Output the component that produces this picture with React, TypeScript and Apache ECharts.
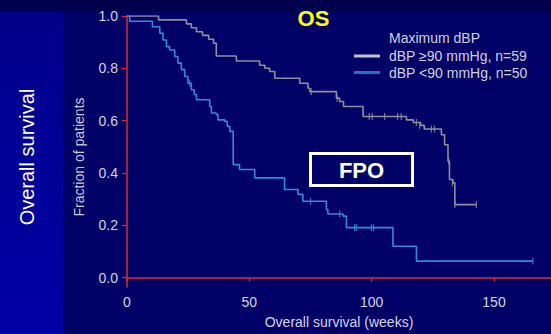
import React, { useEffect, useRef } from "react";
import * as echarts from "echarts";

// dBP >= 90 mmHg, n=59 (step points: week, fraction surviving from that week)
const highWeeks = [0, 12.9, 24.3, 26.3, 28.4, 30.9, 33.4, 35.4, 36.5, 44.7, 54.2, 56.3, 58.3, 60.4, 70.6, 74.0, 74.7, 85.6, 86.9, 88.5, 96.5, 114.2, 117.0, 120.0, 121.5, 128.5, 129.8, 131.2, 131.8, 133.2, 134.0, 142.8];
const highFrac = [1.0, 0.985, 0.97, 0.955, 0.94, 0.926, 0.911, 0.896, 0.847, 0.828, 0.812, 0.8, 0.788, 0.762, 0.743, 0.724, 0.711, 0.686, 0.673, 0.654, 0.616, 0.603, 0.593, 0.582, 0.568, 0.546, 0.508, 0.445, 0.375, 0.362, 0.279, 0.279];
const highCensorWeeks = [75.3, 85.9, 99.0, 100.2, 105.3, 110.6, 112.1, 118.3, 119.6, 124.4, 125.7, 131.5, 133.0, 134.0, 142.8];
const highCensorFrac = [0.711, 0.686, 0.616, 0.616, 0.616, 0.616, 0.616, 0.593, 0.582, 0.568, 0.568, 0.445, 0.362, 0.279, 0.279];

// dBP < 90 mmHg, n=50
const lowWeeks = [0, 1.1, 10.4, 13.4, 14.7, 16.1, 17.4, 19.5, 20.8, 22.2, 23.6, 24.9, 26.3, 27.5, 28.4, 33.8, 34.5, 36.5, 37.2, 39.9, 41.0, 42.0, 43.4, 46.0, 52.2, 64.4, 69.9, 71.9, 81.5, 82.1, 88.3, 89.7, 108.7, 118.3, 165.9];
const lowFrac = [1.0, 0.98, 0.959, 0.934, 0.908, 0.883, 0.87, 0.845, 0.82, 0.795, 0.769, 0.743, 0.718, 0.7, 0.68, 0.654, 0.629, 0.623, 0.603, 0.597, 0.578, 0.559, 0.432, 0.413, 0.381, 0.337, 0.318, 0.292, 0.26, 0.243, 0.235, 0.191, 0.12, 0.063, 0.063];
const lowCensorWeeks = [25.6, 75.0, 86.9, 93.0, 93.7, 99.9, 100.8, 165.9];
const lowCensorFrac = [0.743, 0.292, 0.243, 0.191, 0.191, 0.191, 0.191, 0.063];

const xTicks = [0, 50, 100, 150];
const yTicks = [0, 0.2, 0.4, 0.6, 0.8, 1.0];

const seriesNames = ["dBP \u226590 mmHg, n=59", "dBP <90 mmHg, n=50"];
const FONT = "Liberation Sans, Arial, sans-serif";
const RED = "#dc2b2b";
const GRAY = "#8e8e9c";
const BLUE = "#3489d8";

const zip = (a: number[], b: number[]) => a.map((v, i) => [v, b[i]]);

export default function App() {
  const ref = useRef<HTMLDivElement>(null);
  useEffect(() => {
    if (!ref.current) return;
    const chart = echarts.init(ref.current, null, { renderer: "svg" });
    chart.setOption({
      animation: false,
      backgroundColor: "transparent",
      textStyle: { fontFamily: FONT },
      grid: { left: 127, right: 0, top: 16, bottom: 46.3 },
      xAxis: {
        type: "value",
        min: 0,
        max: 173.3,
        axisLine: { lineStyle: { color: RED, width: 1.5 } },
        axisTick: { length: 4, lineStyle: { color: RED, width: 1.2 }, customValues: xTicks },
        axisLabel: { customValues: xTicks, color: "#d4d4e4", fontSize: 14, margin: 8, fontFamily: FONT },
        splitLine: { show: false },
        name: "Overall survival (weeks)",
        nameLocation: "middle",
        nameGap: 28,
        nameTextStyle: { color: "#d4d4e4", fontSize: 14, fontFamily: FONT },
      },
      yAxis: {
        type: "value",
        min: -0.036,
        max: 1.0,
        axisLine: { show: true, lineStyle: { color: RED, width: 1.5 } },
        axisTick: { show: true, length: 5, lineStyle: { color: RED, width: 1.2 }, customValues: yTicks },
        axisLabel: {
          customValues: yTicks,
          color: "#d4d4e4",
          fontSize: 14,
          margin: 9,
          fontFamily: FONT,
          formatter: (v: number) => v.toFixed(1),
        },
        splitLine: { show: false },
      },
      legend: {
        orient: "vertical",
        left: 354,
        top: 48.5,
        padding: 0,
        itemGap: 1.5,
        itemWidth: 26,
        itemHeight: 3,
        icon: "rect",
        textStyle: { color: "#d0d0e0", fontSize: 14, lineHeight: 15, fontFamily: FONT, padding: [0, 0, 0, 4] },
        data: [
          { name: seriesNames[0], itemStyle: { color: "#c4c4c8" } },
          { name: seriesNames[1], itemStyle: { color: "#1a78b4" } },
        ],
      },
      graphic: [
        {
          type: "text",
          x: 313.5,
          y: 18,
          style: { text: "OS", fill: "#ffff00", font: `bold 22px ${FONT}`, textAlign: "center", textVerticalAlign: "middle" },
        },
        {
          type: "text",
          x: 389,
          y: 37.5,
          style: { text: "Maximum dBP", fill: "#d0d0e0", font: `14px ${FONT}`, textAlign: "left", textVerticalAlign: "middle" },
        },
        {
          type: "text",
          x: 79,
          y: 157,
          rotation: Math.PI / 2,
          style: { text: "Fraction of patients", fill: "#c8c8d8", font: `14px ${FONT}`, textAlign: "center", textVerticalAlign: "middle" },
        },
        {
          type: "text",
          x: 27,
          y: 157,
          rotation: Math.PI / 2,
          style: { text: "Overall survival", fill: "#ffffff", font: `20px ${FONT}`, textAlign: "center", textVerticalAlign: "middle" },
        },
        {
          type: "rect",
          shape: { x: 310.5, y: 153.5, width: 102, height: 32 },
          style: { fill: "none", stroke: "#ffffff", lineWidth: 3 },
        },
        {
          type: "text",
          x: 361.5,
          y: 170,
          style: { text: "FPO", fill: "#ffffff", font: `bold 22px ${FONT}`, textAlign: "center", textVerticalAlign: "middle" },
        },
      ],
      series: [
        {
          name: seriesNames[0],
          type: "line",
          step: "end",
          showSymbol: false,
          data: zip(highWeeks, highFrac),
          lineStyle: { color: GRAY, width: 1.6 },
          itemStyle: { color: GRAY },
          z: 3,
        },
        {
          name: seriesNames[1],
          type: "line",
          step: "end",
          showSymbol: false,
          data: zip(lowWeeks, lowFrac),
          lineStyle: { color: BLUE, width: 1.6 },
          itemStyle: { color: BLUE },
          z: 3,
        },
        {
          name: "censor-high",
          type: "scatter",
          symbol: "rect",
          symbolSize: [1.3, 7],
          data: zip(highCensorWeeks, highCensorFrac),
          itemStyle: { color: GRAY },
          z: 4,
        },
        {
          name: "censor-low",
          type: "scatter",
          symbol: "rect",
          symbolSize: [1.3, 7],
          data: zip(lowCensorWeeks, lowCensorFrac),
          itemStyle: { color: BLUE },
          z: 4,
        },
      ],
    });
    return () => chart.dispose();
  }, []);

  return (
    <div style={{ position: "fixed", left: 0, top: 0, width: 551, height: 334, background: "#000066", overflow: "hidden" }}>
      <div style={{ position: "absolute", left: 0, top: 0, width: 551, height: 12, background: "#00004c" }} />
      <div
        style={{
          position: "absolute",
          left: 0,
          top: 12,
          width: 63,
          height: 322,
          background: "linear-gradient(to bottom, #00008a, #0000a6)",
        }}
      />
      <div ref={ref} style={{ position: "absolute", left: 0, top: 0, width: 551, height: 334 }} />
    </div>
  );
}
